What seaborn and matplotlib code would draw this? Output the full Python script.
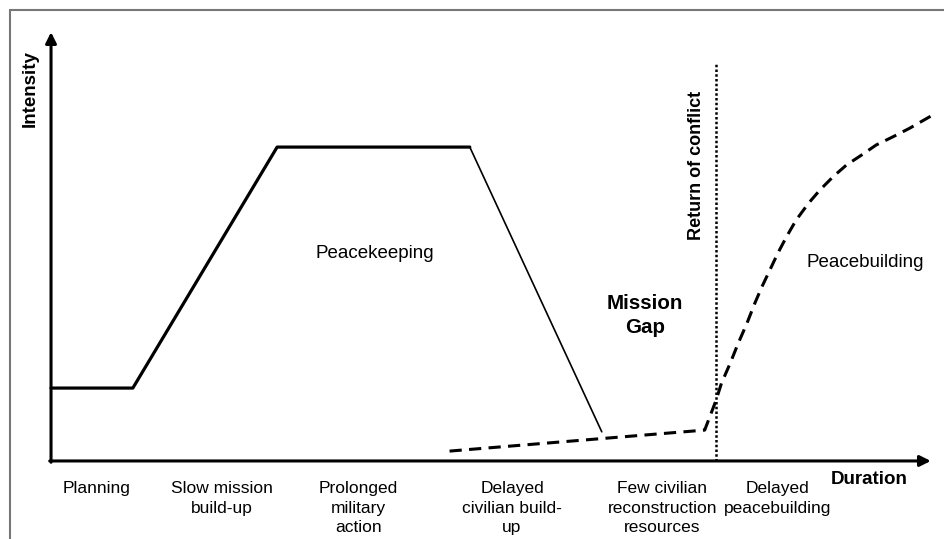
import matplotlib
matplotlib.use("Agg")
import matplotlib.pyplot as plt
from matplotlib.lines import Line2D
import seaborn as sns
import pandas as pd

# ---- data (arbitrary units: duration 0..100, intensity 0..100) ----
peacekeeping_x = [0.0, 9.3, 25.7, 47.6]
peacekeeping_y = [17.0, 17.0, 73.2, 73.2]
drawdown_x = [47.6, 62.6]
drawdown_y = [73.2, 6.8]
peacebuilding_x = [45.3, 74.3, 75.6, 76.2, 77.2, 78.1, 79.1, 80.0, 80.8, 81.7, 82.6, 83.6,
                   84.7, 86.1, 87.4, 88.9, 90.4, 92.1, 93.8, 95.7, 97.6, 99.9, 100.5]
peacebuilding_y = [2.3, 7.2, 14.2, 18.1, 22.8, 27.4, 32.1, 36.8, 40.6, 44.5, 48.4, 52.3,
                   56.2, 60.1, 63.2, 66.3, 69.0, 71.3, 73.7, 75.6, 77.6, 80.3, 81.0]
conflict_x = 75.6
conflict_top = 92.8

phase_labels = ["Planning", "Slow mission\nbuild-up", "Prolonged\nmilitary\naction",
                "Delayed\ncivilian build-\nup", "Few civilian\nreconstruction\nresources",
                "Delayed\npeacebuilding"]
phase_x = [5.2, 19.4, 34.9, 52.4, 69.5, 82.6]

sns.set_theme(style="white")
plt.rcParams['font.family'] = ['Liberation Sans', 'DejaVu Sans']
plt.rcParams['text.color'] = 'black'

fig = plt.figure(figsize=(9.44, 5.39), dpi=100)
ax = fig.add_axes([0, 0, 1, 1])
ax.set_xlim(-5.8, 101.5)
ax.set_ylim(-18.2, 107.5)
ax.axis("off")

df_pk = pd.DataFrame({"x": peacekeeping_x, "y": peacekeeping_y})
df_dd = pd.DataFrame({"x": drawdown_x, "y": drawdown_y})
df_pb = pd.DataFrame({"x": peacebuilding_x, "y": peacebuilding_y})

sns.lineplot(data=df_pk, x="x", y="y", ax=ax, color="black", lw=2.3, sort=False,
             estimator=None)
sns.lineplot(data=df_dd, x="x", y="y", ax=ax, color="black", lw=1.2, sort=False,
             estimator=None)
sns.lineplot(data=df_pb, x="x", y="y", ax=ax, color="black", lw=2.2, sort=False,
             estimator=None)
ax.lines[-1].set_dashes((4, 2.4))
ax.lines[-1].set_solid_joinstyle("round")
ax.lines[-1].set_dash_joinstyle("round")

# return of conflict dotted line
ax.plot([conflict_x, conflict_x], [0, conflict_top], color="black", lw=1.8,
        linestyle=(0, (1, 0.9)))

# axes arrows
ax.annotate("", xy=(0, 100), xytext=(0, -0.3),
            arrowprops=dict(arrowstyle="-|>", lw=2.2, color="black", mutation_scale=16,
                            shrinkA=0, shrinkB=0))
ax.annotate("", xy=(100, 0), xytext=(-0.15, 0),
            arrowprops=dict(arrowstyle="-|>", lw=2.2, color="black", mutation_scale=16,
                            shrinkA=0, shrinkB=0))

# texts
ax.text(-2.39, 86.9, "Intensity", rotation=90, ha="center", va="center",
        fontsize=13.5, fontweight="bold", color="black")
ax.text(73.4, 69.0, "Return of conflict", rotation=90, ha="center", va="center",
        fontsize=13, fontweight="bold", color="black")
ax.text(36.8, 48.3, "Peacekeeping", ha="center", va="center", fontsize=13.5,
        color="black")
ax.text(67.5, 34.0, "Mission\nGap", ha="center", va="center", fontsize=14.8,
        fontweight="bold", linespacing=1.35, color="black")
ax.text(92.6, 46.2, "Peacebuilding", ha="center", va="center", fontsize=13.5,
        color="black")
ax.text(93.0, -4.4, "Duration", ha="center", va="center", fontsize=13.5,
        fontweight="bold", color="black")
for lab, xp in zip(phase_labels, phase_x):
    ax.text(xp, -4.7, lab, ha="center", va="top", fontsize=12.5, linespacing=1.38,
            color="black")

# gray frame (top and left edges visible)
fx = 10 / 944
fy = 1 - 10 / 539
fig.add_artist(Line2D([fx, 1.0], [fy, fy], color="#777777", lw=1.5,
                      transform=fig.transFigure))
fig.add_artist(Line2D([fx, fx], [0, fy], color="#777777", lw=1.5,
                      transform=fig.transFigure))

fig.savefig("out.png", dpi=100)
